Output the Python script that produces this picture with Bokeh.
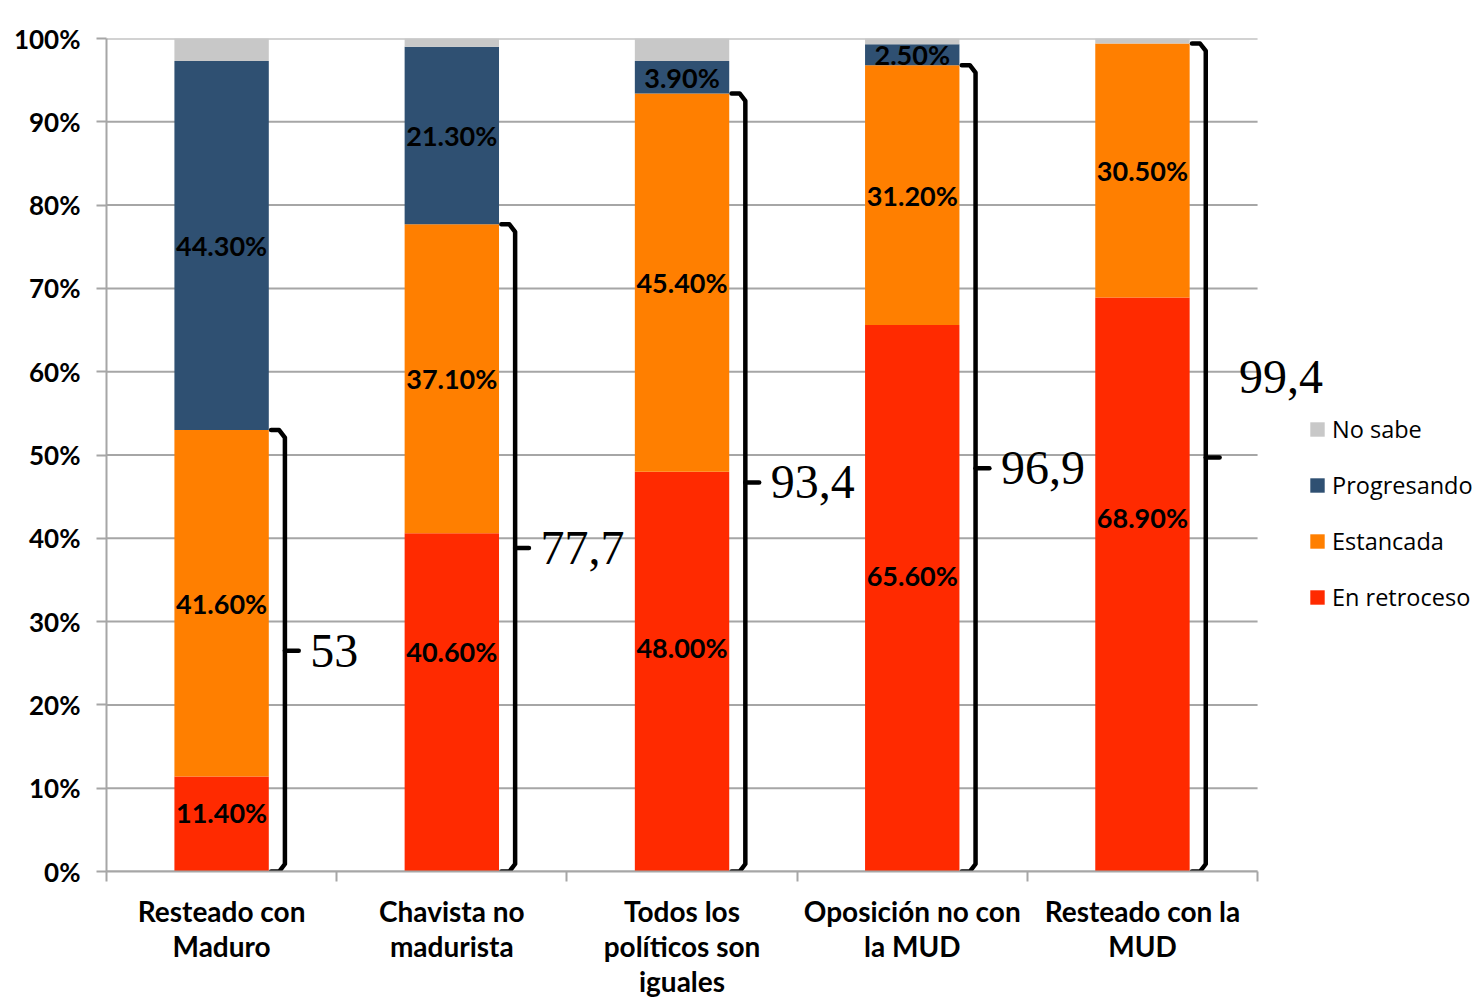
from bokeh.plotting import figure
from bokeh.models import (ColumnDataSource, Range1d, FixedTicker, Legend, LegendItem,
                          Label)
from bokeh.core.properties import value
from bokeh.embed import file_html
from bokeh.resources import INLINE

# ---------------- data ----------------
categories = ["Resteado con\nMaduro", "Chavista no\nmadurista",
              "Todos los\npolíticos son\niguales", "Oposición no con\nla MUD",
              "Resteado con la\nMUD"]
en_retroceso = [11.4, 40.6, 48.0, 65.6, 68.9]
estancada = [41.6, 37.1, 45.4, 31.2, 30.5]
progresando = [44.3, 21.3, 3.9, 2.5, 0.0]
no_sabe = [2.7, 1.0, 2.7, 0.7, 0.6]
bracket_labels = ["53", "77,7", "93,4", "96,9", "99,4"]
y_ticks = [0, 10, 20, 30, 40, 50, 60, 70, 80, 90, 100]

series_names = ["En retroceso", "Estancada", "Progresando", "No sabe"]
series_keys = ["ret", "est", "pro", "nos"]
colors = ["#FF2A00", "#FF7F00", "#2F5072", "#C8C8C8"]

n = len(categories)
xs = [i + 0.5 for i in range(n)]
source = ColumnDataSource(dict(x=xs, ret=en_retroceso, est=estancada,
                               pro=progresando, nos=no_sabe))

# frame extends into the right margin so the legend/labels there are not clipped
p = figure(frame_width=1370, frame_height=833, output_backend="svg",
           toolbar_location=None, x_range=Range1d(0, 5.951), y_range=Range1d(0, 100),
           min_border_left=106, min_border_top=38, min_border_right=0,
           min_border_bottom=2)
p.outline_line_color = None
p.background_fill_color = "white"

# horizontal gridlines only across the category area
p.xgrid.grid_line_color = None
p.ygrid.grid_line_color = None
p.segment(x0=[0] * len(y_ticks), x1=[n] * len(y_ticks), y0=y_ticks, y1=y_ticks,
          line_color="#A6A6A6", line_width=2)

rs = p.vbar_stack(series_keys, x="x", width=0.41, color=colors, source=source,
                  line_color=None)

# ---------------- axes ----------------
p.yaxis.ticker = FixedTicker(ticks=y_ticks)
p.yaxis.major_label_overrides = {t: f"{t}%" for t in y_ticks}
p.yaxis.major_label_text_font = "Lato"
p.yaxis.major_label_text_font_style = "bold"
p.yaxis.major_label_text_font_size = "26px"
p.yaxis.major_label_text_color = "black"
p.yaxis.axis_line_color = "#A6A6A6"
p.yaxis.axis_line_width = 2
p.yaxis.major_tick_line_color = "#A6A6A6"
p.yaxis.major_tick_line_width = 2
p.yaxis.major_tick_out = 10
p.yaxis.major_tick_in = 0
p.yaxis.minor_tick_line_color = None
p.yaxis.major_label_standoff = 16

p.xaxis.bounds = (0, n)
p.xaxis.ticker = FixedTicker(ticks=xs, minor_ticks=list(range(n + 1)))
p.xaxis.major_label_overrides = {x: c for x, c in zip(xs, categories)}
p.xaxis.major_label_text_font = "Lato"
p.xaxis.major_label_text_font_style = "bold"
p.xaxis.major_label_text_font_size = "28px"
p.xaxis.major_label_text_color = "black"
p.xaxis.major_label_text_line_height = 1.04
p.xaxis.axis_line_color = "#A6A6A6"
p.xaxis.axis_line_width = 2
p.xaxis.major_tick_out = 0
p.xaxis.major_tick_in = 0
p.xaxis.minor_tick_line_color = "#A6A6A6"
p.xaxis.minor_tick_line_width = 2
p.xaxis.minor_tick_out = 10
p.xaxis.minor_tick_in = 0
p.xaxis.major_label_standoff = 12

# ---------------- segment labels ----------------
label_shift = {("ret", 0): 1.4, ("ret", 1): 6.1, ("ret", 2): 2.9,
               ("ret", 3): 2.7, ("ret", 4): 8.0}
lx, ly, lt = [], [], []
for i in range(n):
    base = 0.0
    for key, vals in zip(series_keys[:3], [en_retroceso, estancada, progresando]):
        v = vals[i]
        if v > 0:
            lx.append(xs[i])
            ly.append(base + v / 2 + label_shift.get((key, i), 0.0))
            lt.append(f"{v:.2f}%")
        base += v
p.text(x=lx, y=ly, text=lt, text_align="center", text_baseline="middle",
       text_font=value("Lato"), text_font_style="bold", text_font_size="27px",
       text_color="black")

# ---------------- brackets ----------------
bx, by = [], []
rx, ry = 0.025, 0.9
for i in range(n):
    c = xs[i]
    top = en_retroceso[i] + estancada[i]
    x0, xv, xt = c + 0.215, c + 0.275, c + 0.335
    mid = top / 2
    bx.append([x0, xv - rx, xv, xv, xv - rx, x0])
    by.append([top, top, top - ry, ry, 0, 0])
    bx.append([xv, xt])
    by.append([mid, mid])
p.multi_line(bx, by, line_color="black", line_width=4.5, line_join="round",
             line_cap="round")

label_dx = [0, 0, 0, 0, 8]
label_dy = [0, 0, 0, 0, 80]
for i in range(n):
    top = en_retroceso[i] + estancada[i]
    p.add_layout(Label(x=xs[i] + 0.385, y=top / 2, x_offset=label_dx[i],
                       y_offset=label_dy[i],
                       text=bracket_labels[i], text_font="Liberation Serif",
                       text_font_size="48px", text_baseline="middle",
                       text_color="black"))

# ---------------- legend ----------------
items = [LegendItem(label=series_names[k], renderers=[rs[k]]) for k in [3, 2, 1, 0]]
legend = Legend(items=items, location=(1202, 258), glyph_width=18, glyph_height=18,
                label_text_font="Open Sans", label_text_font_size="23.5px",
                label_text_color="black",
                label_standoff=6, spacing=24, padding=0, margin=0,
                border_line_color=None, background_fill_alpha=0)
p.add_layout(legend)

open("out.html", "w").write(file_html(p, INLINE))
